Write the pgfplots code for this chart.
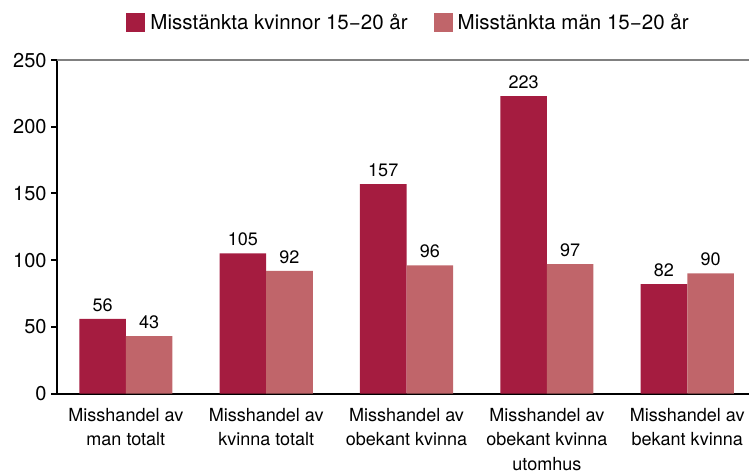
\documentclass[border=0pt]{standalone}
\usepackage{fontspec}
\setmainfont{TeX Gyre Heros}
\usepackage{pgfplots}
\pgfplotsset{compat=1.18}
\definecolor{darkred}{RGB}{165,28,64}
\definecolor{lightred}{RGB}{192,101,106}
\begin{document}
\begin{tikzpicture}[x=1pt,y=1pt]
\path[use as bounding box] (-57,-80) rectangle (691,393);
\begin{axis}[
  at={(0,0)}, anchor=south west,
  scale only axis, width=691pt, height=333pt,
  xmin=-0.49, xmax=4.44, ymin=0, ymax=250,
  axis x line*=bottom, axis y line*=left,
  axis line style={line width=2pt, -},
  ytick={0,50,100,150,200,250},
  xtick={0,1,2,3,4},
  xticklabels={Misshandel av\\man totalt, Misshandel av\\kvinna totalt, Misshandel av\\obekant kvinna, Misshandel av\\obekant kvinna\\utomhus, Misshandel av\\bekant kvinna},
  x tick label style={align=center, font=\fontsize{18}{24.5}\selectfont, yshift=-5pt},
  y tick label style={font=\fontsize{20}{22}\selectfont, xshift=-1pt},
  major x tick style={draw=none},
  major y tick style={line width=2pt, black},
  tick align=outside, major tick length=6pt,
  /pgf/number format/assume math mode=true,
  ybar, bar width=0.332,
  nodes near coords,
  every node near coord/.append style={font=\fontsize{18}{20}\selectfont, black, yshift=4pt},
  legend style={draw=none, at={(0.508,1.1126)}, anchor=center, legend columns=2,
    font=\fontsize{20.5}{22}\selectfont,
    /tikz/every odd column/.append style={column sep=3pt},
    /tikz/every even column/.append style={column sep=24pt}},
  legend image code/.code={\fill[#1] (0pt,-9.5pt) rectangle (19pt,9.5pt);},
  clip=false,
]
\addplot[fill=darkred, draw=none, bar shift=-0.166] coordinates {(0,56) (1,105) (2,157) (3,223) (4,82)};
\addplot[fill=lightred, draw=none, bar shift=0.166] coordinates {(0,43) (1,92) (2,96) (3,97) (4,90)};
\legend{Misstänkta kvinnor 15−20 år, Misstänkta män 15−20 år}
\draw[gray, line width=2pt] (axis cs:-0.49,250) -- (axis cs:4.44,250);
\end{axis}
\end{tikzpicture}
\end{document}
